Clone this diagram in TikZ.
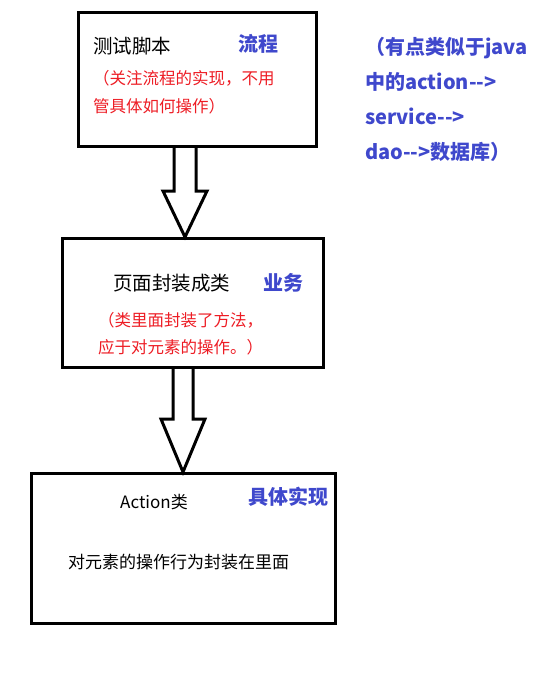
\documentclass[tikz,border=0pt]{standalone}
\usepackage{fontspec}
\setmainfont{Noto Sans CJK SC}
\usetikzlibrary{calc}
\definecolor{tagblue}{RGB}{63,72,204}
\definecolor{notered}{RGB}{237,28,36}

\begin{document}
\begin{tikzpicture}[x=1pt, y=-1pt,
    box/.style={draw=black, line width=3pt, minimum width=#1, inner sep=0pt},
    hollowarrow/.style={draw=black, fill=white, line width=3pt, line join=miter},
    tag/.style={anchor=west, inner sep=0pt, text=tagblue, font=\bfseries\fontsize{20}{20}\selectfont},
    note/.style={anchor=west, inner sep=0pt, text=notered, align=left}]
      \useasboundingbox (0,0) rectangle (534,686);
      % three layers
      \node[box=238pt, minimum height=134pt] (s1) at (197.5,79.5) {};
      \node[box=261pt, minimum height=129pt] (s2) at (193,303) {};
      \node[box=304pt, minimum height=150pt] (s3) at (183.5,548.5) {};
      % block arrows between the layers
      \coordinate (a1) at (185,0 |- s1.south);
      \coordinate (b1) at (185,0 |- s2.north);
      \draw[hollowarrow] ($(a1)+(-11,0)$) -- ($(b1)+(-11,-46)$) -- ($(b1)+(-22,-46)$) -- (b1)
        -- ($(b1)+(22,-46)$) -- ($(b1)+(11,-46)$) -- ($(a1)+(11,0)$);
      \coordinate (a2) at (183,0 |- s2.south);
      \coordinate (b2) at (183,0 |- s3.north);
      \draw[hollowarrow] ($(a2)+(-10,0)$) -- ($(b2)+(-10,-53)$) -- ($(b2)+(-22,-53)$) -- (b2)
        -- ($(b2)+(22,-53)$) -- ($(b2)+(10,-53)$) -- ($(a2)+(10,0)$);
      % texts of the first box
      \node[anchor=west, inner sep=0pt, font=\fontsize{19.5}{19.5}\selectfont] (t1) at (93,46) {测试脚本};
      \node[tag] (g1) at (238,44) {流程};
      \node[note, font=\fontsize{16.5}{28}\selectfont] (n1) at (93,92) {（关注流程的实现，不用\\管具体如何操作）};
      % side remark
      \node[tag, align=left, font=\bfseries\fontsize{20}{35}\selectfont] (rem) at (365,99)
        {（有点类似于java\\中的action-{}-{}>\\service-{}-{}>\\dao-{}-{}>数据库）};
      % texts of the second box
      \node[anchor=west, inner sep=0pt, font=\fontsize{19.5}{19.5}\selectfont] (t2) at (113,283) {页面封装成类};
      \node[tag] (g2) at (263,283) {业务};
      \node[note, font=\fontsize{16.5}{27}\selectfont] (n2) at (98,333.5) {（类里面封装了方法，\\应于对元素的操作。）};
      % texts of the third box
      \node[anchor=west, inner sep=0pt, font=\fontsize{17}{17}\selectfont] (t3) at (120,502) {Action类};
      \node[tag] (g3) at (248,497) {具体实现};
      \node[anchor=west, inner sep=0pt, font=\fontsize{17}{17}\selectfont] (d3) at (68,562) {对元素的操作行为封装在里面};
\end{tikzpicture}
\end{document}
